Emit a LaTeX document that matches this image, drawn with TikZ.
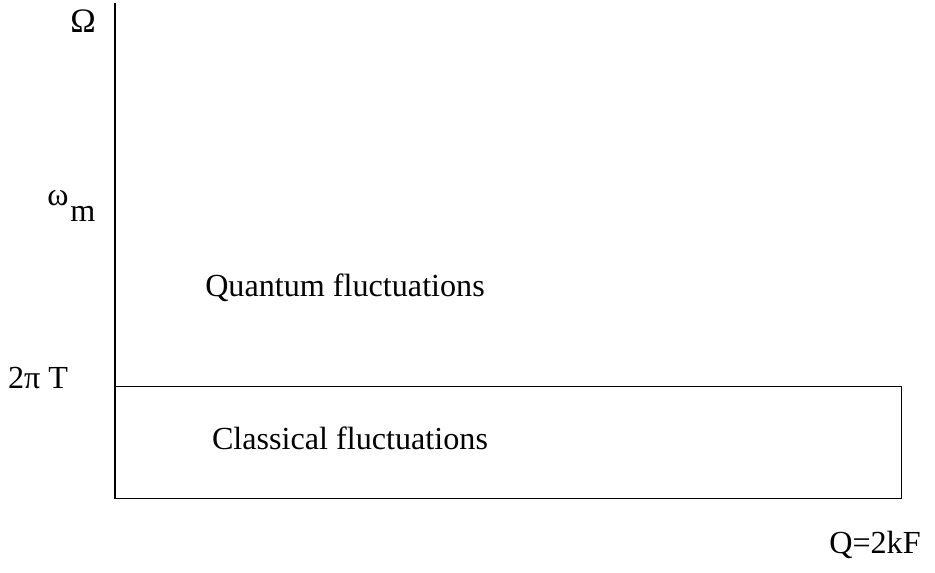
\documentclass[tikz,border=0pt]{standalone}
\usepackage{fontspec}
\setmainfont{Liberation Serif}
\usetikzlibrary{positioning}

\begin{document}
\begin{tikzpicture}[
        x=0.02cm, y=-0.02cm,
        lbl/.style={inner sep=0pt, font=\fontsize{18.3}{22}\selectfont},
        region/.style={draw, thick, rectangle, inner sep=0pt, minimum width=15.72cm, minimum height=2.24cm}
    ]
        \useasboundingbox (0,0) rectangle (935,572);

        % classical region and frequency axis
        \node[region, anchor=north west] (classic) at (115,386) {};
        \coordinate (axtop) at (115,3);
        \draw[thick] (axtop) -- (classic.south west);

        % labels on the axis
        \node[lbl, font=\fontsize{19.5}{22}\selectfont] (omega) at (83,21) {Ω};
        \node[lbl, anchor=base west] (omegam) at (47,205) {ω\kern1pt\raisebox{-9.5pt}{m}};
        \node[lbl] (twopit) at (38,378) {2π T};
        \node[lbl] (qval) at (875,545) {Q=2kF};

        % regions
        \node[lbl] (quantum) at (345,288) {Quantum fluctuations};
        \node[lbl] (classtxt) at (350,438) {Classical fluctuations};
\end{tikzpicture}
\end{document}
